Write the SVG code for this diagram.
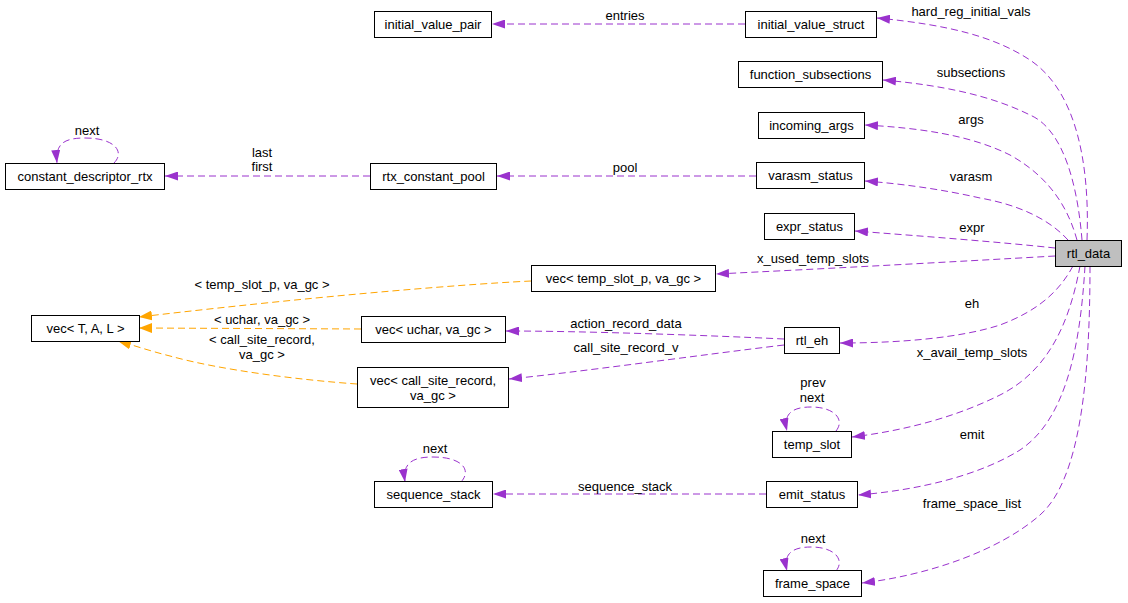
<svg xmlns="http://www.w3.org/2000/svg" width="1128" height="603" viewBox="0 0 1128 603">
<style>
.n rect{fill:#fff;stroke:#000;stroke-width:1}
.n text,.l{font-family:"Liberation Sans",Arial,sans-serif;font-size:13px;text-anchor:middle;fill:#000}
.e{fill:none;stroke:#9a32cd;stroke-width:1;stroke-dasharray:7,4;marker-end:url(#ap)}
.o{fill:none;stroke:#ffa500;stroke-width:1;stroke-dasharray:7,4;marker-end:url(#ao)}
</style>
<defs>
<marker id="ap" markerUnits="userSpaceOnUse" markerWidth="13" markerHeight="9" viewBox="0 0 13 9" refX="13" refY="4.5" orient="auto"><path d="M0,0 L13,4.5 L0,9 z" fill="#9a32cd"/></marker>
<marker id="ao" markerUnits="userSpaceOnUse" markerWidth="13" markerHeight="10" viewBox="0 0 13 10" refX="13" refY="5" orient="auto"><path d="M0,0 L13,5 L0,10 z" fill="#ffa500"/></marker>
</defs>
<rect width="1128" height="603" fill="#fff"/>
<g id="edges">
<path class="e" d="M745,24 L492,24"/>
<text class="l" x="625" y="20">entries</text>
<path class="e" d="M1087,240 C1090,160 1075,90 1030,60 C995,37 950,25 877,18"/>
<text class="l" x="971" y="16">hard_reg_initial_vals</text>
<path class="e" d="M1082,240 C1078,190 1065,130 1030,115 C990,95 940,85 883,80"/>
<text class="l" x="971" y="77">subsections</text>
<path class="e" d="M1077,240 C1070,215 1055,180 1010,155 C970,135 920,128 865,125"/>
<text class="l" x="971" y="124">args</text>
<path class="e" d="M1068,240 C1050,220 1020,205 980,198 C945,190 905,184 865,181"/>
<text class="l" x="971" y="181">varasm</text>
<path class="e" d="M1055,248 C1000,242 920,236 855,231"/>
<text class="l" x="972" y="232">expr</text>
<path class="e" d="M1055,256 C950,262 820,269 716,274"/>
<text class="l" x="813" y="263">x_used_temp_slots</text>
<path class="e" d="M1073,266 C1060,290 1040,310 1000,325 C960,338 900,343 840,343"/>
<text class="l" x="972" y="308">eh</text>
<path class="e" d="M1080,266 C1070,320 1050,370 1000,395 C960,415 910,430 852,437"/>
<text class="l" x="972" y="357">x_avail_temp_slots</text>
<path class="e" d="M1085,266 C1080,350 1065,420 1020,450 C980,475 920,490 858,495"/>
<text class="l" x="972" y="439">emit</text>
<path class="e" d="M1090,266 C1090,380 1080,480 1040,515 C1000,550 930,575 862,583"/>
<text class="l" x="972" y="508">frame_space_list</text>
<path class="e" d="M756,176 L497,176"/>
<text class="l" x="625" y="172">pool</text>
<path class="e" d="M370,176 L165,176"/>
<text class="l" x="262" y="157">last</text>
<text class="l" x="262" y="171">first</text>
<path class="e" d="M114,163 C125,152 115,138 85,138 C65,138 55,143 57,163"/>
<text class="l" x="87" y="135">next</text>
<path class="o" d="M531,281 C450,285 300,298 139,317"/>
<text class="l" x="262" y="289">&lt; temp_slot_p, va_gc &gt;</text>
<path class="o" d="M361,329 L139,328"/>
<text class="l" x="262" y="324">&lt; uchar, va_gc &gt;</text>
<path class="o" d="M357,384 C300,380 220,370 170,356 C150,351 136,346 118,341"/>
<text class="l" x="262" y="344">&lt; call_site_record,</text>
<text class="l" x="262" y="359">va_gc &gt;</text>
<path class="e" d="M784,339 C700,335 580,331 506,331"/>
<text class="l" x="626" y="328">action_record_data</text>
<path class="e" d="M784,345 C700,355 580,372 509,379"/>
<text class="l" x="626" y="352">call_site_record_v</text>
<path class="e" d="M836,431 C845,420 835,407 811,407 C792,407 783,414 787,431"/>
<text class="l" x="813" y="387">prev</text>
<text class="l" x="812" y="402">next</text>
<path class="e" d="M461,482 C472,470 462,457 433,457 C414,457 402,462 405,482"/>
<text class="l" x="435" y="453">next</text>
<path class="e" d="M766,494 L493,494"/>
<text class="l" x="625" y="491">sequence_stack</text>
<path class="e" d="M836,571 C845,560 835,547 811,547 C792,547 783,554 787,571"/>
<text class="l" x="813" y="543">next</text>
</g>
<g id="initial_value_pair" class="n"><rect x="374.5" y="11.5" width="117" height="26"/><text x="433" y="29">initial_value_pair</text></g>
<g id="initial_value_struct" class="n"><rect x="745.5" y="11.5" width="131" height="26"/><text x="811" y="29">initial_value_struct</text></g>
<g id="function_subsections" class="n"><rect x="738.5" y="61.5" width="144" height="26"/><text x="810.5" y="79">function_subsections</text></g>
<g id="incoming_args" class="n"><rect x="758.5" y="112.5" width="106" height="26"/><text x="811.5" y="130">incoming_args</text></g>
<g id="varasm_status" class="n"><rect x="756.5" y="162.5" width="108" height="26"/><text x="810.5" y="180">varasm_status</text></g>
<g id="expr_status" class="n"><rect x="764.5" y="213.5" width="90" height="26"/><text x="809.5" y="231">expr_status</text></g>
<g id="rtl_data" class="n"><rect x="1055.5" y="240.5" width="66" height="26" style="fill:#bfbfbf"/><text x="1088.5" y="258">rtl_data</text></g>
<g id="vec_temp_slot_p" class="n"><rect x="531.5" y="265.5" width="184" height="26"/><text x="623.5" y="283">vec&lt; temp_slot_p, va_gc &gt;</text></g>
<g id="vec_T_A_L" class="n"><rect x="31.5" y="315.5" width="108" height="26"/><text x="85.5" y="333">vec&lt; T, A, L &gt;</text></g>
<g id="vec_uchar" class="n"><rect x="361.5" y="316.5" width="144" height="26"/><text x="433.5" y="334">vec&lt; uchar, va_gc &gt;</text></g>
<g id="vec_call_site_record" class="n"><rect x="357.5" y="367.5" width="151" height="40"/><text x="433" y="384.5">vec&lt; call_site_record,</text><text x="433" y="399.5">va_gc &gt;</text></g>
<g id="rtl_eh" class="n"><rect x="784.5" y="327.5" width="55" height="26"/><text x="812" y="345">rtl_eh</text></g>
<g id="temp_slot" class="n"><rect x="772.5" y="431.5" width="79" height="26"/><text x="812" y="449">temp_slot</text></g>
<g id="sequence_stack" class="n"><rect x="374.5" y="481.5" width="118" height="26"/><text x="433.5" y="499">sequence_stack</text></g>
<g id="emit_status" class="n"><rect x="766.5" y="481.5" width="91" height="26"/><text x="812" y="499">emit_status</text></g>
<g id="frame_space" class="n"><rect x="763.5" y="570.5" width="98" height="26"/><text x="812.5" y="588">frame_space</text></g>
<g id="constant_descriptor_rtx" class="n"><rect x="5.5" y="163.5" width="159" height="26"/><text x="85" y="181">constant_descriptor_rtx</text></g>
<g id="rtx_constant_pool" class="n"><rect x="370.5" y="163.5" width="126" height="26"/><text x="433.5" y="181">rtx_constant_pool</text></g>
</svg>
